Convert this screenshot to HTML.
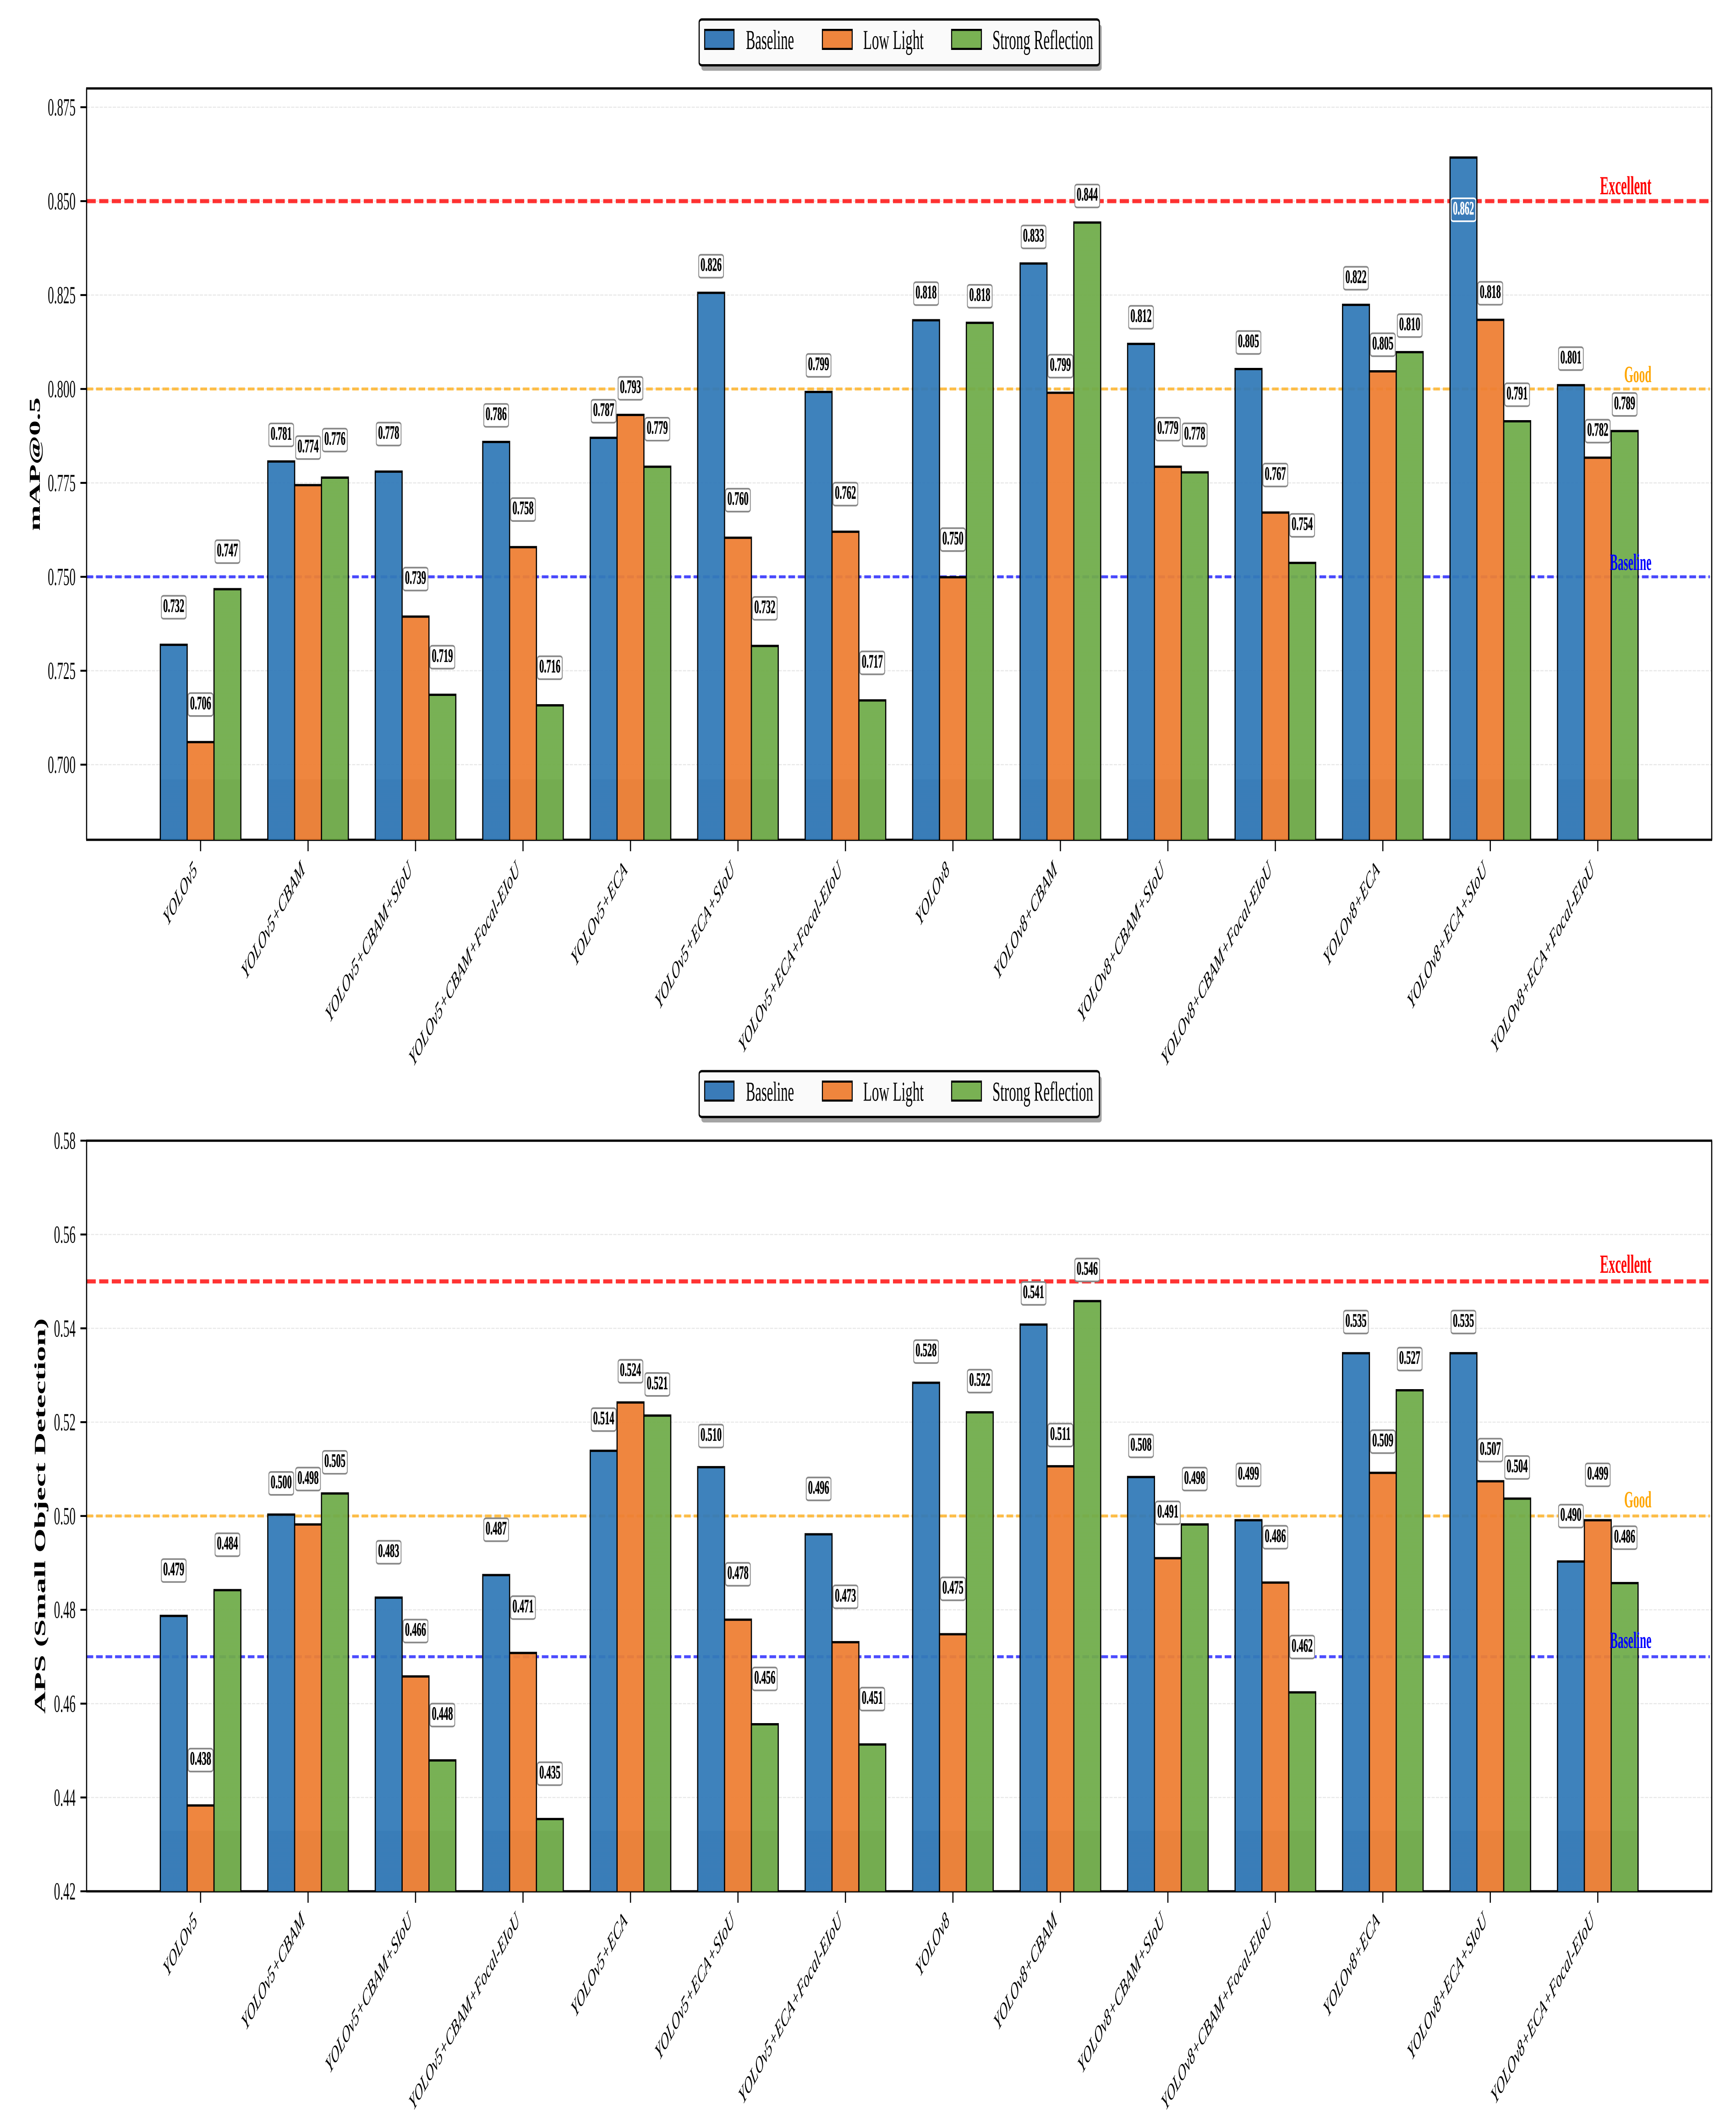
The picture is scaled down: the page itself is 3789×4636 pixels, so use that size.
<!DOCTYPE html>
<html lang="en">
<head>
<meta charset="utf-8">
<title>YOLO model comparison: mAP@0.5 and APS</title>
<style>
html,body{margin:0;padding:0;background:#fff;}
svg{display:block;text-rendering:geometricPrecision;font-family:"Liberation Serif","Times New Roman",serif;}
</style>
</head>
<body>
<svg id="figure" xmlns="http://www.w3.org/2000/svg" width="3789" height="4636" viewBox="0 0 7578 4636" preserveAspectRatio="none">
  <defs id="defs"></defs>
  <rect x="0" y="0" width="7578" height="4636" fill="#ffffff"/>
  <g id="charts"></g>

  <g>
    <rect x="3062" y="53.5" width="1747" height="101" rx="12" ry="6" fill="#a4a4a4"/>
    <rect x="3052" y="42.5" width="1747" height="100" rx="12" ry="6" fill="#fafafa" stroke="#000000" stroke-width="5"/>
    <g>
      <rect x="3076" y="65.25" width="128" height="41.5" fill="#3a7bb8" stroke="#000" stroke-width="4.5"/>
      <text x="3256" y="107" font-size="60" fill="#000" textLength="210" lengthAdjust="spacingAndGlyphs">Baseline</text>
    </g>
    <g>
      <rect x="3590" y="65.25" width="130" height="41.5" fill="#ef853d" stroke="#000" stroke-width="4.5"/>
      <text x="3768" y="107" font-size="60" fill="#000" textLength="264" lengthAdjust="spacingAndGlyphs">Low Light</text>
    </g>
    <g>
      <rect x="4154" y="65.25" width="130" height="41.5" fill="#79b153" stroke="#000" stroke-width="4.5"/>
      <text x="4332" y="107" font-size="60" fill="#000" textLength="440" lengthAdjust="spacingAndGlyphs">Strong Reflection</text>
    </g>
  </g>

  <g transform="translate(0,2295.5)">
    <rect x="3062" y="53.5" width="1747" height="101" rx="12" ry="6" fill="#a4a4a4"/>
    <rect x="3052" y="42.5" width="1747" height="100" rx="12" ry="6" fill="#fafafa" stroke="#000000" stroke-width="5"/>
    <g>
      <rect x="3076" y="65.25" width="128" height="41.5" fill="#3a7bb8" stroke="#000" stroke-width="4.5"/>
      <text x="3256" y="107" font-size="60" fill="#000" textLength="210" lengthAdjust="spacingAndGlyphs">Baseline</text>
    </g>
    <g>
      <rect x="3590" y="65.25" width="130" height="41.5" fill="#ef853d" stroke="#000" stroke-width="4.5"/>
      <text x="3768" y="107" font-size="60" fill="#000" textLength="264" lengthAdjust="spacingAndGlyphs">Low Light</text>
    </g>
    <g>
      <rect x="4154" y="65.25" width="130" height="41.5" fill="#79b153" stroke="#000" stroke-width="4.5"/>
      <text x="4332" y="107" font-size="60" fill="#000" textLength="440" lengthAdjust="spacingAndGlyphs">Strong Reflection</text>
    </g>
  </g>
</svg>

<script>
const categories = ["YOLOv5","YOLOv5+CBAM","YOLOv5+CBAM+SIoU","YOLOv5+CBAM+Focal-EIoU","YOLOv5+ECA","YOLOv5+ECA+SIoU","YOLOv5+ECA+Focal-EIoU","YOLOv8","YOLOv8+CBAM","YOLOv8+CBAM+SIoU","YOLOv8+CBAM+Focal-EIoU","YOLOv8+ECA","YOLOv8+ECA+SIoU","YOLOv8+ECA+Focal-EIoU"];

const mapBaseline = [0.7319,0.7807,0.7780,0.7859,0.7870,0.8256,0.7992,0.8183,0.8334,0.8120,0.8053,0.8224,0.8616,0.8010];
const mapLowLight = [0.7060,0.7744,0.7394,0.7579,0.7931,0.7604,0.7620,0.7499,0.7990,0.7793,0.7671,0.8047,0.8184,0.7817];
const mapReflection = [0.7467,0.7764,0.7186,0.7158,0.7793,0.7316,0.7171,0.8176,0.8443,0.7778,0.7537,0.8098,0.7914,0.7888];

const apsBaseline = [0.4787,0.5003,0.4826,0.4874,0.5139,0.5104,0.4961,0.5284,0.5408,0.5083,0.4991,0.5347,0.5347,0.4903];
const apsLowLight = [0.4383,0.4982,0.4658,0.4708,0.5242,0.4779,0.4731,0.4748,0.5106,0.4910,0.4858,0.5092,0.5074,0.4991];
const apsReflection = [0.4842,0.5048,0.4479,0.4354,0.5214,0.4556,0.4513,0.5221,0.5458,0.4982,0.4624,0.5268,0.5037,0.4857];

const mapTickLabels = ["0.700","0.725","0.750","0.775","0.800","0.825","0.850","0.875"];
const apsTickLabels = ["0.42","0.44","0.46","0.48","0.50","0.52","0.54","0.56","0.58"];

const mapReferenceValues = [0.85,0.80,0.75];
const apsReferenceValues = [0.55,0.50,0.47];
const referenceNames = ["Excellent","Good","Baseline"];
const seriesNames = ["Baseline","Low Light","Strong Reflection"];

const NS = "http://www.w3.org/2000/svg";
const root = document.getElementById("charts");
const defs = document.getElementById("defs");

/* the figure is drawn in a coordinate space twice as wide as the image */
const XS = 2;
const plotLeft = 189 * XS;
const plotRight = 3736 * XS;
const tick0 = 437.8;
const tickStep = 234.58;
const barWidth = 58.6;

const lightColors = ["#327ab8","#ee7f33","#70ac4a"];
const darkColors = ["#2d75b3","#e97a2f","#6ba745"];
const refColors = ["#ff0000","#ffa500","#0000ff"];
const refOpacity = [0.8,0.7,0.7];
const refWidth = [9,6.5,6.5];
const refDash = ["40 15","29 12.4","29 12.4"];
const refFontSize = [57,51,51];

function make(tag, parent, geometry, text) {
  const el = document.createElementNS(NS, tag);
  for (const k in geometry) el.setAttribute(k, geometry[k]);
  if (text !== undefined) el.textContent = text;
  parent.appendChild(el);
  return el;
}

function xCenter(i) { return (tick0 + tickStep * i) * XS; }

function drawChart(cfg) {
  const yOf = v => cfg.y0 - (v - cfg.v0) * cfg.pxPerUnit;
  const axisBottom = yOf(cfg.vMin);
  const axisTop = yOf(cfg.vMax);

  const g = make("g", root, {});
  
  

  /* gridlines */
  cfg.tickLabels.forEach(function (label) {
    const y = yOf(parseFloat(label));
    const grid = make("line", g, {x1: plotLeft, x2: plotRight, y1: y, y2: y, stroke: "#e8e8e8", "stroke-width": 2.4, "stroke-dasharray": "14 5"});
    
    
  });

  /* reference lines */
  cfg.refs.forEach(function (v, i) {
    const y = yOf(v);
    const line = make("line", g, {x1: plotLeft, x2: plotRight - 8, y1: y, y2: y, stroke: refColors[i], "stroke-opacity": refOpacity[i], "stroke-width": refWidth[i], "stroke-dasharray": refDash[i]});
    
    
  });

  /* spines */
  const topSpine = make("line", g, {x1: plotLeft - 2, x2: plotRight + 2, y1: axisTop, y2: axisTop, stroke: "#000", "stroke-width": 5});
  
  
  const bottomSpine = make("line", g, {x1: plotLeft - 2, x2: plotRight + 2, y1: axisBottom, y2: axisBottom, stroke: "#000", "stroke-width": 5});
  
  
  const leftSpine = make("line", g, {x1: plotLeft, x2: plotLeft, y1: axisTop, y2: axisBottom, stroke: "#000", "stroke-width": 5});
  
  
  const rightSpine = make("line", g, {x1: plotRight, x2: plotRight, y1: axisTop, y2: axisBottom, stroke: "#000", "stroke-width": 5});
  
  

  /* y ticks */
  cfg.tickLabels.forEach(function (label) {
    const y = yOf(parseFloat(label));
    const tick = make("line", g, {x1: plotLeft - 27, x2: plotLeft, y1: y, y2: y, stroke: "#000", "stroke-width": 4.2});
    
    
    const txt = make("text", g, {x: 165 * XS, y: y + 18, "font-size": 54, "text-anchor": "end", fill: "#000"}, label);
    
    
  });

  /* y title */
  const title = make("text", g, {transform: "translate(" + cfg.titleX * XS + "," + (axisTop + axisBottom) / 2 + ") rotate(-90)", "font-size": cfg.titleSize, "font-weight": "bold", "text-anchor": "middle", fill: "#000"}, cfg.title);
  
  

  /* colour steps slightly darker near the base of the bars */
  const shadeY = axisBottom - 132;
  lightColors.forEach(function (c, j) {
    const grad = make("linearGradient", defs, {id: cfg.name + "-fill-" + j, gradientUnits: "userSpaceOnUse", x1: 0, x2: 0, y1: 0, y2: 4636});
    const frac = shadeY / 4636;
    make("stop", grad, {offset: frac, "stop-color": c});
    make("stop", grad, {offset: frac, "stop-color": darkColors[j]});
  });

  /* bars */
  cfg.series.forEach(function (values, j) {
    values.forEach(function (v, i) {
      const cx = xCenter(i) + (j - 1) * barWidth * XS;
      const left = cx - barWidth * XS / 2;
      const right = cx + barWidth * XS / 2;
      const bar = make("path", g, {d: "M" + left + " " + axisBottom + "V" + yOf(v) + "H" + right + "V" + axisBottom, fill: "url(#" + cfg.name + "-fill-" + j + ")", "fill-opacity": 0.94, stroke: "#000", "stroke-width": 5});
      
      
    });
  });

  /* x ticks and rotated category labels */
  categories.forEach(function (name, i) {
    const cx = xCenter(i);
    const tick = make("line", g, {x1: cx, x2: cx, y1: axisBottom + 2, y2: axisBottom + 25, stroke: "#000", "stroke-width": 5});
    
    
    const squeeze = cfg.squeezedLabels.indexOf(i) >= 0 ? 0.965 : 1;
    const label = make("text", g, {transform: "translate(" + (cx - 6 * XS) + "," + (axisBottom + cfg.xLabelGap) + ") scale(1," + squeeze + ") rotate(-42.5)", "font-size": 51, "font-style": "italic", "text-anchor": "end", fill: "#000"}, name);
    
    
  });

  /* reference labels */
  cfg.refs.forEach(function (v, i) {
    const label = make("text", g, {x: 3604.5 * XS, y: yOf(v) - cfg.refGap, "font-size": refFontSize[i], "font-weight": "bold", "text-anchor": "end", fill: refColors[i]}, referenceNames[i]);
    
    
  });

  /* value labels */
  cfg.series.forEach(function (values, j) {
    values.forEach(function (v, i) {
      const cx = xCenter(i) + (j - 1) * barWidth * XS;
      const inside = v >= cfg.insideFrom;
      const cy = inside ? yOf(v) + cfg.insideDrop : yOf(v) - (v >= cfg.liftSwitch ? cfg.liftHigh : cfg.liftLow);
      const box = make("rect", g, {x: cx - 54, y: cy - 25, width: 108, height: 50, rx: 10, ry: 5, fill: inside ? "#3a7bb8" : "#ffffff", stroke: inside ? "#ffffff" : "#888888", "stroke-width": 3.6});
      
      
      const ink = inside ? "#ffffff" : "#000000";
      const txt = make("text", g, {x: cx, y: cy + 10, "font-size": 41, "font-weight": "bold", "text-anchor": "middle", fill: ink, stroke: ink, "stroke-width": 0.7}, v.toFixed(3));
      
      
    });
  });
}

drawChart({
  name: "map50-chart", title: "mAP@0.5", titleX: 87, titleSize: 67,
  y0: 849, v0: 0.80, pxPerUnit: 8200, vMin: 0.68, vMax: 0.88,
  tickLabels: mapTickLabels, refs: mapReferenceValues,
  series: [mapBaseline, mapLowLight, mapReflection],
  xLabelGap: 69, refGap: 15, squeezedLabels: [],
  liftSwitch: 0.78, liftHigh: 58, liftLow: 82, insideFrom: 0.85, insideDrop: 114
});

drawChart({
  name: "aps-chart", title: "APS (Small Object Detection)", titleX: 98.7, titleSize: 68,
  y0: 3308.9, v0: 0.50, pxPerUnit: 10240, vMin: 0.42, vMax: 0.58,
  tickLabels: apsTickLabels, refs: apsReferenceValues,
  series: [apsBaseline, apsLowLight, apsReflection],
  xLabelGap: 67.5, refGap: 19, squeezedLabels: [3, 10],
  liftSwitch: 0.50, liftHigh: 68, liftLow: 99, insideFrom: 9, insideDrop: 0
});
</script>
</body>
</html>
